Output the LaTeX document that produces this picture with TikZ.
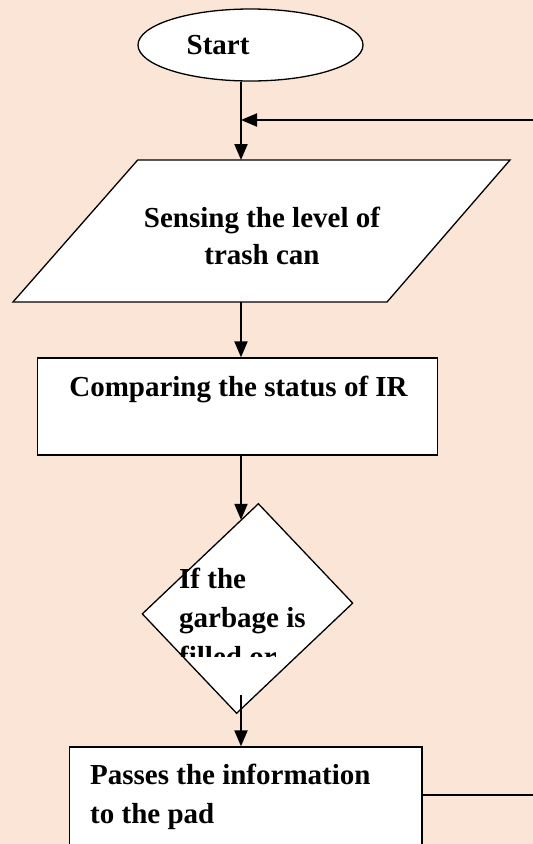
\documentclass[tikz,border=0pt]{standalone}
\usepackage{fontspec}
\setmainfont{Liberation Serif}
\usetikzlibrary{arrows.meta,calc,shapes.geometric}
\definecolor{bg}{HTML}{FBE5D6}
\tikzset{
  shapeline/.style={draw=black, line width=1.3pt, fill=white},
  txt/.style={inner sep=0pt, font=\fontsize{29}{38}\selectfont\bfseries},
  conn/.style={line width=2pt, -{Triangle[length=16pt,width=13pt]}},
  plainconn/.style={line width=1.4pt}
}
\begin{document}
\begin{tikzpicture}[x=1pt,y=-1pt]
\fill[bg] (0,0) rectangle (533,844);
\useasboundingbox (0,0) rectangle (533,844);
\coordinate (col) at (241,0);
% start ellipse
\node[ellipse, shapeline, minimum width=225pt, minimum height=72pt, inner sep=0pt] (start) at (250.5,45) {};
\node[txt, anchor=base west] (starttxt) at (186.5,54) {Start};
% parallelogram
\coordinate (pTL) at (137.7,160);
\coordinate (pTR) at (510,160);
\coordinate (pBR) at (387,302);
\coordinate (pBL) at (13,302);
\draw[shapeline] (pTL) -- (pTR) -- (pBR) -- (pBL) -- cycle;
\node[txt, anchor=base] (sense1) at (262,227.5) {Sensing the level of};
\node[txt, anchor=base] (sense2) at (262,264.5) {trash can};
% compare box
\node[rectangle, shapeline, minimum width=400.4pt, minimum height=97pt, inner sep=0pt] (cmp) at (237.5,406.5) {};
\node[txt, anchor=base] (cmptxt) at (238.5,396.7) {Comparing the status of IR};
% decision
\node[rectangle, shapeline, minimum width=160pt, minimum height=137pt, rotate=43.5, inner sep=0pt] (dec) at (247.5,608.5) {};
\begin{scope}
\clip (150,540) rectangle (340,656);
\node[txt, anchor=base west] (dec1) at (179,588) {If the};
\node[txt, anchor=base west] (dec2) at (179,627) {garbage is};
\node[txt, anchor=base west] (dec3) at (179,666) {filled or};
\end{scope}
% pass box
\node[rectangle, shapeline, minimum width=352.7pt, minimum height=133pt, inner sep=0pt] (pass) at (245.7,813.5) {};
\node[txt, anchor=base west] (pass1) at (90,784) {Passes the information};
\node[txt, anchor=base west] (pass2) at (90,823) {to the pad};
% connectors
\coordinate (fbR) at (533,120);
\coordinate (fbB) at (533,795);
\coordinate (decout) at (241,695);
\coordinate (decin) at ($(dec.north west)!0.847!(dec.north east)$);
\draw[conn] (start.south -| col) -- (col |- pTL);
\draw[conn] (fbR) -- (col |- fbR);
\draw[conn] (col |- pBL) -- (col |- cmp.north);
\draw[conn] (col |- cmp.south) -- (col |- decin);
\draw[conn] (decout) -- (col |- pass.north);
\draw[plainconn] (fbB -| pass.east) -- (fbB);
\end{tikzpicture}
\end{document}
